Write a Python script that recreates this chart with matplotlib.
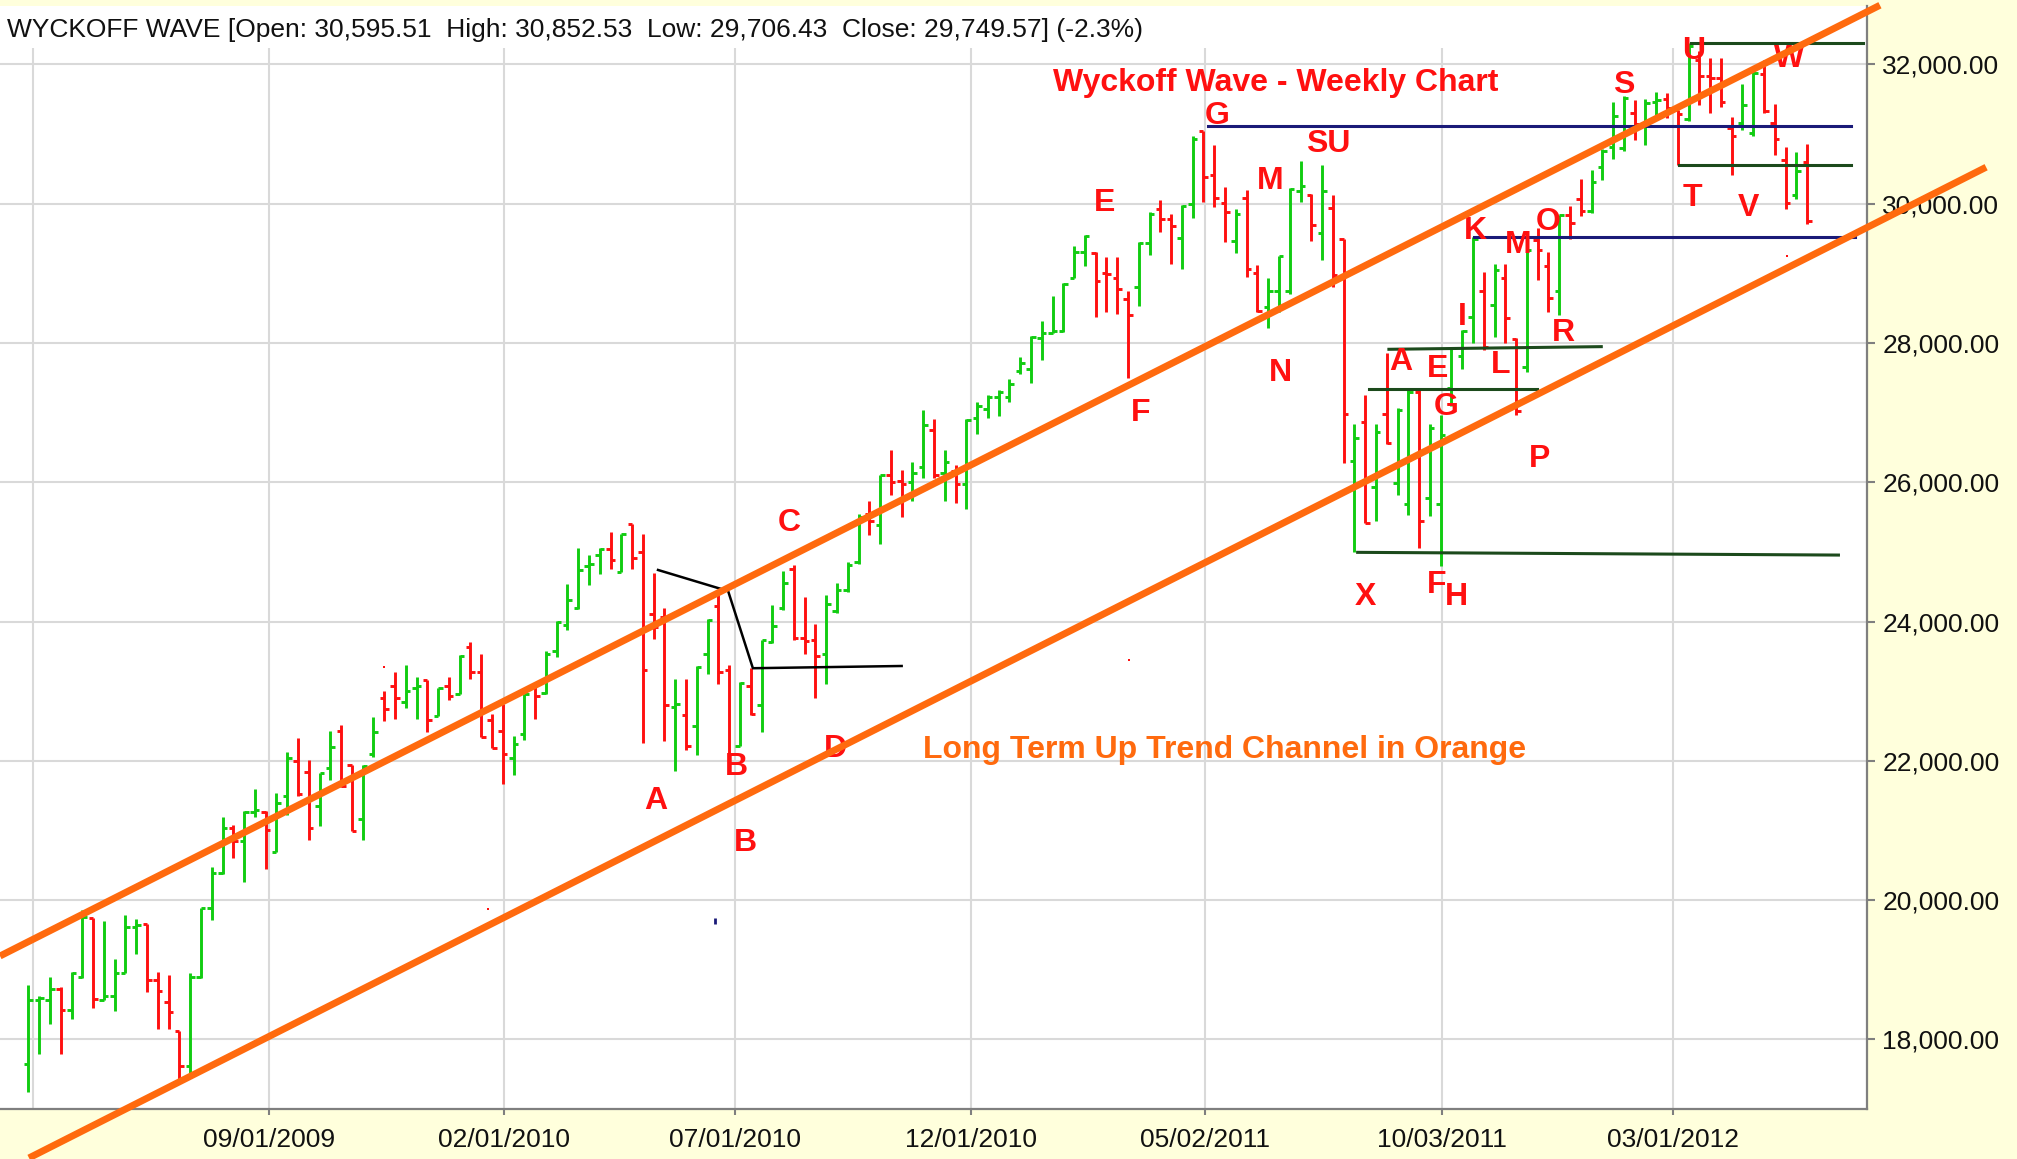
import numpy as np
import pandas as pd
import matplotlib
matplotlib.use("Agg")
import matplotlib.pyplot as plt

plt.rcParams["font.family"] = ["Liberation Sans", "DejaVu Sans"]

# week 0 of the bar axis; every bar is one week later than the previous one
START = pd.Timestamp("2009-03-29")

# ---- weekly OHLC --------------------------------------------------------------
OPEN = [17650, 18560, 18570, 18730, 18420, 18890, 19740, 18570, 18620, 18960,
        19620, 19660, 18850, 18530, 18120, 17620, 18890, 19890, 20390, 21030,
        20850, 21260, 21270, 20690, 21500, 22000, 21840, 21350, 21890, 22430,
        21940, 21160, 22100, 22900, 23080, 22850, 23040, 23160, 22650, 23070,
        22960, 23630, 23270, 22590, 22430, 22040, 22390, 23070, 22980, 23580,
        23950, 24190, 24800, 24960, 25040, 24710, 25400, 25000, 24110, 24060,
        22780, 22660, 22500, 23530, 24220, 23300, 22220, 23080, 22800, 23710,
        24190, 24760, 23760, 23730, 23530, 24150, 24450, 24850, 25540, 25390,
        26110, 26020, 26000, 26220, 26750, 26130, 26160, 25980, 26920, 27050,
        27220, 27220, 27600, 27620, 28070, 28150, 28170, 28940, 29310, 29290,
        29010, 28940, 28630, 28810, 29430, 29920, 29780, 29510, 30000, 31040,
        30420, 30010, 29460, 30080, 29010, 28520, 28740, 28740, 30190, 30130,
        29580, 29940, 29490, 26300, 26870, 25930, 26980, 25990, 25690, 27290,
        25770, 25690, 27350, 27810, 28380, 28740, 28540, 28940, 28060, 27660,
        29480, 29110, 28740, 29840, 30070, 29890, 30530, 30810, 30800, 31310,
        31140, 31460, 31500, 31350, 31220, 32060, 31830, 31800, 31090, 31160,
        31010, 31860, 31160, 30630, 30130, 30595.51]
HIGH = [18780, 18620, 18890, 18750, 18970, 19860, 19740, 19700, 19160, 19780,
        19730, 19660, 18970, 18930, 18120, 18960, 19890, 20470, 21200, 21080,
        21280, 21590, 21280, 21540, 22130, 22330, 22010, 21820, 22430, 22510,
        21940, 21940, 22630, 23010, 23280, 23370, 23200, 23160, 23050, 23200,
        23520, 23710, 23540, 22670, 22810, 22360, 22960, 23070, 23580, 24010,
        24540, 25060, 24960, 25060, 25280, 25260, 25400, 25260, 24700, 24190,
        23170, 23170, 23360, 24040, 24400, 23380, 23130, 23330, 23740, 24240,
        24730, 24810, 24350, 23960, 24380, 24550, 24850, 25540, 25730, 26110,
        26460, 26180, 26290, 27040, 26910, 26460, 26250, 26910, 27150, 27250,
        27330, 27480, 27800, 28100, 28320, 28680, 28860, 29390, 29550, 29310,
        29240, 29240, 28740, 29450, 29880, 30050, 29860, 29980, 30970, 31040,
        30850, 30240, 29930, 30200, 29120, 28930, 29250, 30230, 30620, 30140,
        30550, 30130, 29490, 26840, 27260, 26840, 27860, 27060, 27320, 27350,
        26840, 26960, 27940, 28190, 29520, 29020, 29140, 29140, 28070, 29520,
        29650, 29310, 29840, 29970, 30350, 30480, 30780, 31460, 31550, 31490,
        31500, 31610, 31590, 31350, 32310, 32200, 32090, 32090, 31250, 31720,
        31960, 32060, 31430, 30820, 30750, 30852.53]
LOW = [17250, 17790, 18220, 17790, 18290, 18880, 18450, 18560, 18410, 18950,
       19230, 18680, 18150, 18150, 17410, 17520, 18880, 19720, 20370, 20600,
       20260, 21190, 20450, 20690, 21220, 21500, 20870, 21060, 21720, 21620,
       20990, 20870, 22050, 22570, 22600, 22760, 22600, 22410, 22650, 22880,
       22960, 23180, 22340, 22190, 21670, 21790, 22300, 22600, 22960, 23490,
       23880, 24180, 24530, 24680, 24750, 24710, 24750, 22260, 23750, 22290,
       21850, 22150, 22090, 23250, 23100, 22050, 22210, 22660, 22420, 23690,
       24170, 23730, 23530, 22900, 23100, 24130, 24430, 24830, 25240, 25120,
       25820, 25500, 25730, 26060, 26060, 25730, 25700, 25620, 26700, 26930,
       26950, 27160, 27560, 27430, 27760, 28140, 28160, 28940, 29110, 28380,
       28450, 28410, 27500, 28530, 29270, 29600, 29140, 29070, 29800, 30020,
       29950, 29450, 29300, 28950, 28450, 28220, 28450, 28710, 30030, 29460,
       29190, 28810, 26280, 25000, 25410, 25450, 26550, 25820, 25530, 25050,
       25510, 24800, 27090, 27630, 28000, 27900, 28090, 28000, 26970, 27590,
       28910, 28440, 28400, 29500, 29830, 29870, 30340, 30640, 30760, 30920,
       30840, 31270, 31230, 30550, 31190, 31420, 31310, 31390, 30420, 31060,
       30970, 31310, 30700, 29930, 30070, 29706.43]
CLOSE = [18570, 18590, 18730, 18420, 18960, 19760, 18580, 18620, 18960, 19620,
         19640, 18850, 18690, 18390, 17620, 18890, 19890, 20390, 21030, 20850,
         21270, 21290, 21000, 21390, 22040, 21530, 21040, 21820, 22200, 21640,
         20990, 21930, 22420, 22740, 22900, 23010, 23070, 22590, 23040, 22930,
         23510, 23270, 22340, 22190, 22100, 22240, 22960, 22930, 23540, 24000,
         24310, 24740, 24820, 25040, 24880, 25260, 24910, 23300, 23920, 22800,
         22810, 22210, 23350, 24020, 23270, 22100, 23120, 22670, 23730, 23940,
         24560, 23760, 23720, 23510, 24250, 24450, 24810, 25500, 25440, 26100,
         26000, 25980, 26130, 26820, 26100, 26290, 25980, 26890, 27100, 27220,
         27300, 27410, 27710, 28080, 28140, 28170, 28850, 29310, 29530, 28890,
         28990, 28780, 28400, 29430, 29860, 29780, 29680, 29970, 30930, 30390,
         30080, 29880, 29850, 29070, 28460, 28740, 29250, 30210, 30260, 29700,
         30190, 28980, 26980, 26640, 25420, 26720, 26560, 27040, 27300, 25450,
         26780, 26680, 27930, 28170, 29490, 27940, 29050, 28360, 27020, 29330,
         29340, 28650, 29840, 29720, 29900, 30310, 30760, 31260, 31520, 31140,
         31440, 31490, 31380, 31290, 32260, 31830, 31800, 31460, 30970, 31420,
         31880, 31330, 30930, 30010, 30470, 29749.57]

HEADER = ("WYCKOFF WAVE [Open: 30,595.51  High: 30,852.53  Low: 29,706.43  "
          "Close: 29,749.57] (-2.3%)")
TICK_DATES = ["09/01/2009", "02/01/2010", "07/01/2010", "12/01/2010",
              "05/02/2011", "10/03/2011", "03/01/2012"]
GRID_ONLY_DATES = ["04/01/2009"]
Y_TICKS = [18000, 20000, 22000, 24000, 26000, 28000, 30000, 32000]

# long term channel (weeks, price) - drawn past the frame like the original
CHAN_UP_X, CHAN_UP_Y = [-2.64, 171.75], [19197, 32851]
CHAN_LO_X, CHAN_LO_Y = [0.05, 181.6], [16297, 30525]

# hand drawn level lines: x0, x1, y0, y1
NAVY_LINES = [(109.4, 169.1, 31118, 31118), (134.1, 169.4, 29516, 29516)]
GREEN_LINES = [(154.2, 170.2, 32312, 32312), (153.1, 169.1, 30551, 30551),
               (126.2, 145.9, 27910, 27948), (124.4, 139.9, 27336, 27336),
               (123.3, 167.9, 24994, 24955)]
BLACK_X = [58.4, 64.0, 64.9, 67.2, 81.0]
BLACK_Y = [24741, 24480, 24440, 23330, 23362]

# stray marks left on the chart
DOT_X = [33.0, 42.65, 102.05, 163.1]
DOT_Y = [23344, 19875, 23449, 29248]
NAVY_DOT = (63.65, 19704)

LABELS = ["A", "B", "B", "C", "D", "E", "F", "G", "M", "SU", "N", "X", "F", "H",
          "A", "E", "G", "I", "K", "L", "M", "O", "R", "P", "S", "T", "U", "V", "W"]
LAB_X = [58.2, 65.7, 66.5, 70.6, 74.9, 99.8, 103.2, 110.3, 115.2, 120.6, 116.1,
         124.0, 130.6, 132.5, 127.3, 130.7, 131.5, 133.0, 134.2, 136.6, 138.2,
         141.0, 142.4, 140.2, 148.0, 154.4, 154.5, 159.6, 163.3]
LAB_Y = [21315, 21795, 20706, 25302, 22059, 29890, 26883, 31140, 30207, 30748,
         27456, 24233, 24415, 24233, 27614, 27510, 26971, 28256, 29488, 27574,
         29290, 29630, 28028, 26221, 31591, 29971, 32073, 29829, 31971]

GREEN, RED, ORANGE = "#11cc11", "#ff1010", "#ff6a0e"
NAVY, DKGREEN, GRID = "#1a1a78", "#1c4a1c", "#d9d9d9"


def wk(d):
    return (pd.Timestamp(d) - START).days / 7.0


o, h, l, c = map(np.asarray, (OPEN, HIGH, LOW, CLOSE))
x = np.arange(len(o))
cols = np.where(c >= o, GREEN, RED)

fig = plt.figure(figsize=(20.17, 11.59), dpi=100, facecolor="#ffffdc")
ax = fig.add_axes([0, 50 / 1159, 1867 / 2017, 1103 / 1159])
ax.set_facecolor("white")
ax.set_xlim(-2.64, 170.55)
ax.set_ylim(17000, 32840)

# grid: horizontals full width, verticals stop under the header band
for v in Y_TICKS:
    ax.axhline(v, color=GRID, lw=1.5, zorder=0)
xt = [wk(d) for d in TICK_DATES]
for xv in xt + [wk(d) for d in GRID_ONLY_DATES]:
    ax.vlines(xv, 17000, 32234, color=GRID, lw=1.5, zorder=0)

# OHLC bars
ax.vlines(x, l, h, colors=cols, lw=2.1, capstyle="butt", zorder=2)
ax.hlines(o, x - 0.42, x, colors=cols, lw=2.1, zorder=2)
ax.hlines(c, x, x + 0.42, colors=cols, lw=2.1, zorder=2)

for x0, x1, y0, y1 in NAVY_LINES:
    ax.plot([x0, x1], [y0, y1], color=NAVY, lw=2.2, zorder=3)
for x0, x1, y0, y1 in GREEN_LINES:
    ax.plot([x0, x1], [y0, y1], color=DKGREEN, lw=2.2, zorder=3)
ax.plot(BLACK_X, BLACK_Y, color="black", lw=1.8, zorder=3)
ax.plot(DOT_X, DOT_Y, "s", color=RED, ms=2, mew=0, zorder=3)
ax.plot(*NAVY_DOT, "|", color=NAVY, ms=4, mew=2, zorder=3)

for s, lx, ly in zip(LABELS, LAB_X, LAB_Y):
    ax.text(lx, ly, s, color=RED, fontsize=23, fontweight="bold",
            ha="center", va="baseline", zorder=4)
ax.text(115.7, 31614, "Wyckoff Wave - Weekly Chart", color=RED, fontsize=23,
        fontweight="bold", ha="center", va="baseline", zorder=4)
ax.text(111.0, 22036, "Long Term Up Trend Channel in Orange", color=ORANGE,
        fontsize=23, fontweight="bold", ha="center", va="baseline", zorder=4)

ax.plot(CHAN_UP_X, CHAN_UP_Y, color=ORANGE, lw=5, solid_capstyle="butt",
        clip_on=False, zorder=5)
ax.plot(CHAN_LO_X, CHAN_LO_Y, color=ORANGE, lw=5, solid_capstyle="butt",
        clip_on=False, zorder=5)

fig.text(6.5 / 2017, (1159 - 37) / 1159, HEADER, fontsize=19, va="baseline",
         color="#111111")

# axes dressing: only bottom and right frame
for side in ("top", "left"):
    ax.spines[side].set_visible(False)
for side in ("bottom", "right"):
    ax.spines[side].set_color("#7f7f7f")
    ax.spines[side].set_linewidth(1.6)
ax.set_xticks(xt)
ax.set_xticklabels(TICK_DATES)
ax.yaxis.tick_right()
ax.set_yticks(Y_TICKS)
ax.set_yticklabels([f"{v:,.2f}" for v in Y_TICKS])
ax.tick_params(axis="x", length=4.5, width=1.5, color="#7f7f7f", pad=9,
               labelsize=19, labelcolor="#111111")
ax.tick_params(axis="y", length=6, width=1.5, color="#7f7f7f", pad=5,
               labelsize=19, labelcolor="#111111")

fig.savefig("out.png", dpi=100, facecolor=fig.get_facecolor())
